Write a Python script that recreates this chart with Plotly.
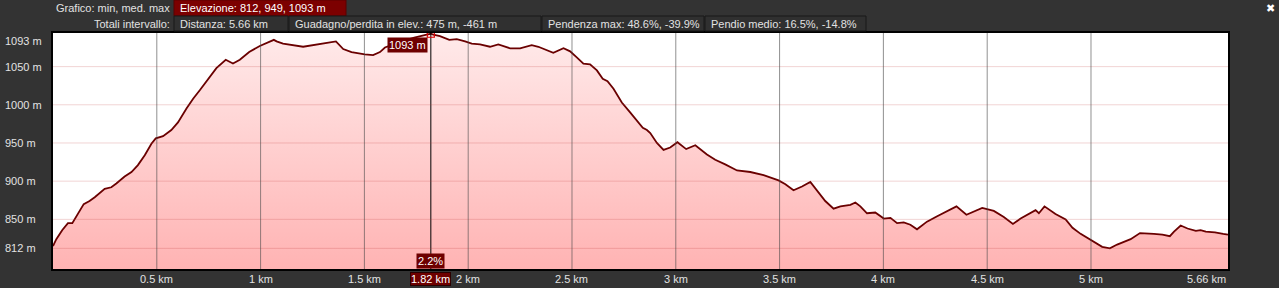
import plotly.graph_objects as go

# ---------------- data ----------------
dist_km = [0.0, 0.016, 0.045, 0.072, 0.093, 0.12, 0.148, 0.176, 0.201, 0.249, 0.281, 0.305,
           0.345, 0.378, 0.409, 0.442, 0.474, 0.495, 0.53, 0.57, 0.602, 0.643, 0.675, 0.707,
           0.747, 0.787, 0.832, 0.867, 0.9, 0.945, 0.996, 1.064, 1.077, 1.108, 1.205, 1.27,
           1.334, 1.363, 1.398, 1.438, 1.502, 1.542, 1.575, 1.599, 1.67, 1.74, 1.80, 1.82,
           1.832, 1.864, 1.909, 1.945, 1.985, 2.017, 2.057, 2.105, 2.145, 2.202, 2.25, 2.306,
           2.338, 2.378, 2.41, 2.459, 2.491, 2.523, 2.555, 2.587, 2.62, 2.648, 2.671, 2.7,
           2.74, 2.78, 2.812, 2.841, 2.861, 2.877, 2.909, 2.941, 2.973, 3.008, 3.05, 3.094,
           3.15, 3.19, 3.238, 3.295, 3.359, 3.423, 3.495, 3.528, 3.567, 3.608, 3.648, 3.68,
           3.72, 3.76, 3.793, 3.841, 3.865, 3.889, 3.921, 3.961, 4.002, 4.034, 4.066, 4.098,
           4.13, 4.162, 4.21, 4.259, 4.299, 4.352, 4.4, 4.435, 4.476, 4.532, 4.58, 4.624,
           4.661, 4.733, 4.749, 4.776, 4.805, 4.829, 4.878, 4.911, 4.95, 5.006, 5.054, 5.091,
           5.126, 5.191, 5.236, 5.303, 5.344, 5.38, 5.4, 5.432, 5.465, 5.505, 5.528, 5.553,
           5.597, 5.637, 5.66]
elev_m = [815, 824, 836, 845, 845, 858, 870, 874, 879, 890, 892, 897,
          906, 912, 921, 934, 949, 956, 959, 967, 977, 995, 1008, 1019,
          1033, 1048, 1059, 1054, 1059, 1069, 1077, 1085, 1083, 1080, 1076, 1079,
          1082, 1083, 1073, 1069, 1066, 1065, 1069, 1075, 1082, 1088, 1092, 1093,
          1092, 1090, 1085, 1086, 1083, 1080, 1079, 1076, 1079, 1074, 1074, 1078,
          1076, 1071, 1068, 1074, 1070, 1062, 1054, 1053, 1045, 1034, 1031, 1021,
          1003, 990, 980, 970, 967, 963, 950, 941, 944, 951, 942, 947,
          935, 928, 922, 914, 912, 908, 901, 896, 888, 893, 899, 888,
          874, 864, 867, 869, 872, 867, 858, 859, 851, 852, 845, 846,
          843, 837, 847, 854, 860, 867, 856, 860, 865, 861, 853, 844,
          851, 862, 858, 867, 861, 857, 850, 839, 831, 822, 814, 812,
          817, 824, 832, 831, 830, 828, 834, 842, 838, 835, 836, 834,
          833, 831, 830]

y_ticks = [1093, 1050, 1000, 950, 900, 850, 812]
y_grid = [1050, 1000, 950, 900, 850, 812]
x_ticks = [0.5, 1, 1.5, 2, 2.5, 3, 3.5, 4, 4.5, 5]
x_end = 5.66

sel_km = 1.82
sel_elev = 1093
sel_grade = "2.2%"

header_row1 = ("Grafico: min, med. max", "Elevazione: 812, 949, 1093 m")
header_row2_label = "Totali intervallo:"
header_row2_boxes = ["Distanza: 5.66 km",
                     "Guadagno/perdita in elev.: 475 m, -461 m",
                     "Pendenza max: 48.6%, -39.9%",
                     "Pendio medio: 16.5%, -14.8%"]

# ---------------- layout geometry ----------------
W, H = 1279, 288
L, R, T, B = 53, 51, 33, 19
PW, PH = W - L - R, H - T - B


def px(x):
    return (x - L) / PW


def py(y):
    return (H - B - y) / PH


FONT = "Arial, Liberation Sans, sans-serif"
TXT = "#e2e2e2"
DARKRED = "#6e0000"

fig = go.Figure()

fig.add_trace(go.Scatter(
    x=dist_km, y=elev_m, mode="lines",
    line=dict(color="#6a0000", width=1.8),
    fill="tozeroy",
    fillgradient=dict(type="vertical", start=785, stop=1093,
                      colorscale=[[0, "#ffb3b3"], [1, "#ffeaea"]]),
    hoverinfo="skip", showlegend=False))

# selection marker line
fig.add_trace(go.Scatter(
    x=[sel_km, sel_km], y=[785, 1094], mode="lines",
    line=dict(color="#000000", width=1), hoverinfo="skip", showlegend=False))
fig.add_trace(go.Scatter(
    x=[sel_km], y=[sel_elev], mode="markers",
    marker=dict(symbol="square-open", size=7, color="#e00000", line=dict(width=1.2)),
    cliponaxis=False, hoverinfo="skip", showlegend=False))

shapes = []
for v in y_grid:
    shapes.append(dict(type="line", xref="paper", x0=0, x1=1, yref="y", y0=v, y1=v,
                       line=dict(color="rgba(190,60,60,0.22)", width=1), layer="above"))
for v in x_ticks:
    shapes.append(dict(type="line", xref="x", x0=v, x1=v, yref="paper", y0=0, y1=1,
                       line=dict(color="rgba(70,70,70,0.6)", width=1), layer="above"))

annotations = []
# y labels
for v in y_ticks:
    annotations.append(dict(x=0, xref="paper", xanchor="left", xshift=-50,
                            y=v, yref="y", yanchor="middle", yshift=-7 if v == 1093 else 0,
                            text=f"{v} m", showarrow=False,
                            font=dict(family=FONT, size=11, color=TXT)))
# x labels
for v in x_ticks:
    annotations.append(dict(x=v, xref="x", xanchor="center",
                            y=py(279), yref="paper", yanchor="middle",
                            text=f"{v:g} km", showarrow=False,
                            font=dict(family=FONT, size=11, color=TXT)))
annotations.append(dict(x=x_end, xref="x", xanchor="right",
                        y=py(279), yref="paper", yanchor="middle",
                        text=f"{x_end:g} km", showarrow=False,
                        font=dict(family=FONT, size=11, color=TXT)))

# selection labels
annotations.append(dict(x=sel_km, xref="x", xanchor="right", xshift=-3,
                        y=py(45), yref="paper", yanchor="middle",
                        text=f"{sel_elev} m", showarrow=False, bgcolor=DARKRED,
                        borderpad=1, font=dict(family=FONT, size=11, color="#ffffff")))
annotations.append(dict(x=sel_km, xref="x", xanchor="center",
                        y=py(260.5), yref="paper", yanchor="middle",
                        text=sel_grade, showarrow=False, bgcolor=DARKRED,
                        borderpad=1, font=dict(family=FONT, size=11, color="#ffffff")))
annotations.append(dict(x=sel_km, xref="x", xanchor="center",
                        y=py(278.5), yref="paper", yanchor="middle",
                        text=f"{sel_km:g} km", showarrow=False, bgcolor=DARKRED,
                        bordercolor="#2a0000", borderwidth=1, borderpad=0,
                        font=dict(family=FONT, size=11, color="#ffffff")))

# header
annotations.append(dict(x=px(172), xref="paper", xanchor="right", y=py(8), yref="paper",
                        yanchor="middle", text=header_row1[0], showarrow=False,
                        font=dict(family=FONT, size=11, color=TXT)))
shapes.append(dict(type="rect", xref="paper", yref="paper", x0=px(174), x1=px(346),
                   y0=py(0), y1=py(16), fillcolor="#7c0000", line=dict(color="#5a0000", width=1),
                   layer="above"))
annotations.append(dict(x=px(178), xref="paper", xanchor="left", y=py(8), yref="paper",
                        yanchor="middle", text=header_row1[1], showarrow=False,
                        font=dict(family=FONT, size=11, color="#ffffff")))
annotations.append(dict(x=px(172), xref="paper", xanchor="right", y=py(24), yref="paper",
                        yanchor="middle", text=header_row2_label, showarrow=False,
                        font=dict(family=FONT, size=11, color=TXT)))
box_edges = [174, 289, 542, 705, 867]
for i, txt in enumerate(header_row2_boxes):
    x0, x1 = box_edges[i], box_edges[i + 1] - 1
    shapes.append(dict(type="rect", xref="paper", yref="paper", x0=px(x0), x1=px(x1),
                       y0=py(16), y1=py(31), fillcolor="#303030",
                       line=dict(color="#181818", width=1), layer="above"))
    annotations.append(dict(x=px(x0 + 4), xref="paper", xanchor="left", y=py(24), yref="paper",
                            yanchor="middle", text=txt, showarrow=False,
                            font=dict(family=FONT, size=11, color=TXT)))
# close button
annotations.append(dict(x=px(1270), xref="paper", xanchor="center", y=py(8), yref="paper",
                        yanchor="middle", text="✖", showarrow=False,
                        font=dict(family="DejaVu Sans", size=11, color="#ffffff")))

fig.update_layout(
    width=W, height=H,
    margin=dict(l=L, r=R, t=T, b=B),
    paper_bgcolor="#333333", plot_bgcolor="#ffffff",
    xaxis=dict(range=[0, x_end], showgrid=False, zeroline=False, showticklabels=False,
               showline=True, mirror=True, linecolor="#000000", linewidth=1.5, fixedrange=True),
    yaxis=dict(range=[785, 1094], showgrid=False, zeroline=False, showticklabels=False,
               showline=True, mirror=True, linecolor="#000000", linewidth=1.5, fixedrange=True),
    shapes=shapes, annotations=annotations, showlegend=False,
)

fig.write_html("out.html", config={"displayModeBar": False})
